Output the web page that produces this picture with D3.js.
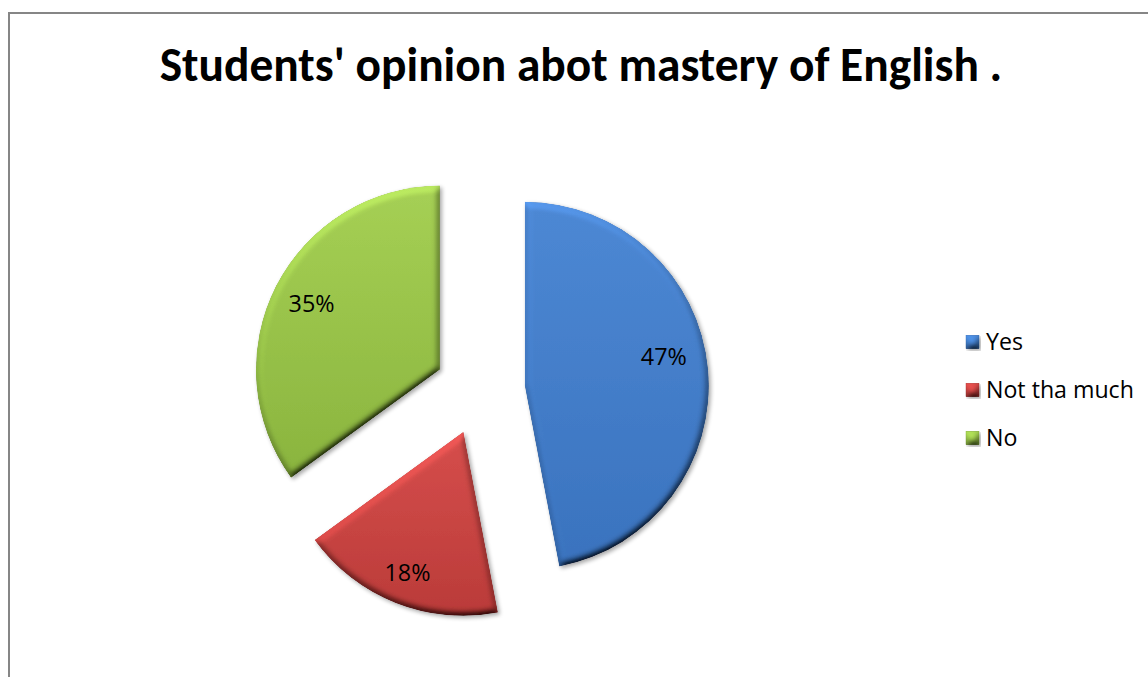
<!DOCTYPE html>
<html>
<head>
<meta charset="utf-8">
<script src="https://cdn.jsdelivr.net/npm/d3@7"></script>
<style>
  html, body { margin: 0; padding: 0; background: #fff; }
  svg { display: block; }
</style>
</head>
<body>
<svg id="chart" width="1148" height="677"></svg>
<script>
// ---- data ----
const title = "Students' opinion abot mastery of English .";
const categories = ["Yes", "Not tha much", "No"];
const values = [47, 18, 35];
const labels = ["47%", "18%", "35%"];
const colors = ["#4480cc", "#cc4543", "#9cc64d"];
const colorsLight = ["#4d88d4", "#d64e4c", "#a6d055"];
const colorsDark = ["#3a73be", "#ba3b39", "#8ab43e"];

// ---- layout ----
const W = 1148, H = 677;
const cx = 480, cy = 390, R = 184;
const explode = [45, 45, 45];
const labelRadius = [142, 152, 144];
const labelAngleShift = [-6.4, 0, 0]; // degrees
const titleFont = "Carlito, Calibri, sans-serif";
const textFont = "'Open Sans', 'Noto Sans', sans-serif";

const svg = d3.select("#chart");
const defs = svg.append("defs");

// bevel filter
const f = defs.append("filter").attr("id", "bevel")
  .attr("x", "-10%").attr("y", "-10%").attr("width", "125%").attr("height", "125%");
f.append("feGaussianBlur").attr("in", "SourceAlpha").attr("stdDeviation", 3.5).attr("result", "blur");
const dl = f.append("feDiffuseLighting").attr("in", "blur").attr("surfaceScale", 5)
  .attr("diffuseConstant", 1).attr("lighting-color", "#ffffff").attr("result", "diff");
dl.append("feDistantLight").attr("azimuth", 250).attr("elevation", 50);
f.append("feComposite").attr("in", "SourceGraphic").attr("in2", "diff")
  .attr("operator", "arithmetic").attr("k1", 1 / Math.sin(50 * Math.PI / 180)).attr("k2", 0).attr("k3", 0).attr("k4", 0)
  .attr("result", "lit");
f.append("feComposite").attr("in", "lit").attr("in2", "SourceAlpha").attr("operator", "in").attr("result", "litIn");
f.append("feGaussianBlur").attr("in", "SourceAlpha").attr("stdDeviation", 2).attr("result", "sblur");
f.append("feOffset").attr("in", "sblur").attr("dx", 2).attr("dy", 2).attr("result", "soff");
f.append("feComponentTransfer").attr("in", "soff").attr("result", "shadow")
  .append("feFuncA").attr("type", "linear").attr("slope", 0.35);
const fm = f.append("feMerge");
fm.append("feMergeNode").attr("in", "shadow");
fm.append("feMergeNode").attr("in", "litIn");

// gradients
categories.forEach((c, i) => {
  const g = defs.append("linearGradient").attr("id", "grad" + i)
    .attr("x1", 0).attr("y1", 0).attr("x2", 0).attr("y2", 1);
  g.append("stop").attr("offset", "0%").attr("stop-color", colorsLight[i]);
  g.append("stop").attr("offset", "100%").attr("stop-color", colorsDark[i]);
});

// chart area border
svg.append("rect")
  .attr("x", 9).attr("y", 13).attr("width", W + 20).attr("height", H + 20)
  .attr("fill", "#fff").attr("stroke", "#868686").attr("stroke-width", 2);

function fitWidth(sel, target) {
  const w = sel.node().getComputedTextLength();
  const fs = parseFloat(sel.attr("font-size"));
  sel.attr("font-size", fs * target / w);
  return fs * target / w;
}

// title
const titleText = svg.append("text")
  .attr("x", 581).attr("y", 81)
  .attr("text-anchor", "middle")
  .attr("font-family", titleFont)
  .attr("font-weight", "bold")
  .attr("font-size", 38)
  .attr("fill", "#000")
  .text(title);
fitWidth(titleText, 843);

// measure label / legend font sizes
const probe = svg.append("text").attr("font-family", textFont).attr("font-size", 20).text("47%");
const labelSize = fitWidth(probe, 46);
probe.attr("font-size", 20).text("Not tha much");
const legendSize = fitWidth(probe, 148);
probe.remove();

// pie
const pie = d3.pie().sort(null).value(d => d)(values);
const arc = d3.arc().innerRadius(0).outerRadius(R);

const slices = svg.append("g").attr("transform", `translate(${cx},${cy})`);
pie.forEach((p, i) => {
  const mid = (p.startAngle + p.endAngle) / 2;
  const dx = Math.sin(mid) * explode[i];
  const dy = -Math.cos(mid) * explode[i];
  const g = slices.append("g").attr("transform", `translate(${dx},${dy})`);
  g.append("path")
    .attr("d", arc(p))
    .attr("fill", `url(#grad${i})`)
    .attr("filter", "url(#bevel)");
  const la = mid + labelAngleShift[i] * Math.PI / 180;
  g.append("text")
    .attr("x", Math.sin(la) * labelRadius[i])
    .attr("y", -Math.cos(la) * labelRadius[i])
    .attr("dy", "0.35em")
    .attr("text-anchor", "middle")
    .attr("font-family", textFont)
    .attr("font-size", labelSize)
    .attr("fill", "#000")
    .text(labels[i]);
});

// legend
const legend = svg.append("g").attr("transform", "translate(966,342)");
categories.forEach((c, i) => {
  const row = legend.append("g").attr("transform", `translate(0,${i * 48})`);
  row.append("rect")
    .attr("x", 0).attr("y", -6.5).attr("width", 13).attr("height", 13)
    .attr("fill", colors[i]).attr("stroke", colorsDark[i]).attr("stroke-width", 0.8)
    .attr("filter", "url(#bevel)");
  row.append("text")
    .attr("x", 20).attr("y", 0).attr("dy", "0.35em")
    .attr("font-family", textFont)
    .attr("font-size", legendSize)
    .attr("fill", "#000")
    .text(c);
});
</script>
</body>
</html>
